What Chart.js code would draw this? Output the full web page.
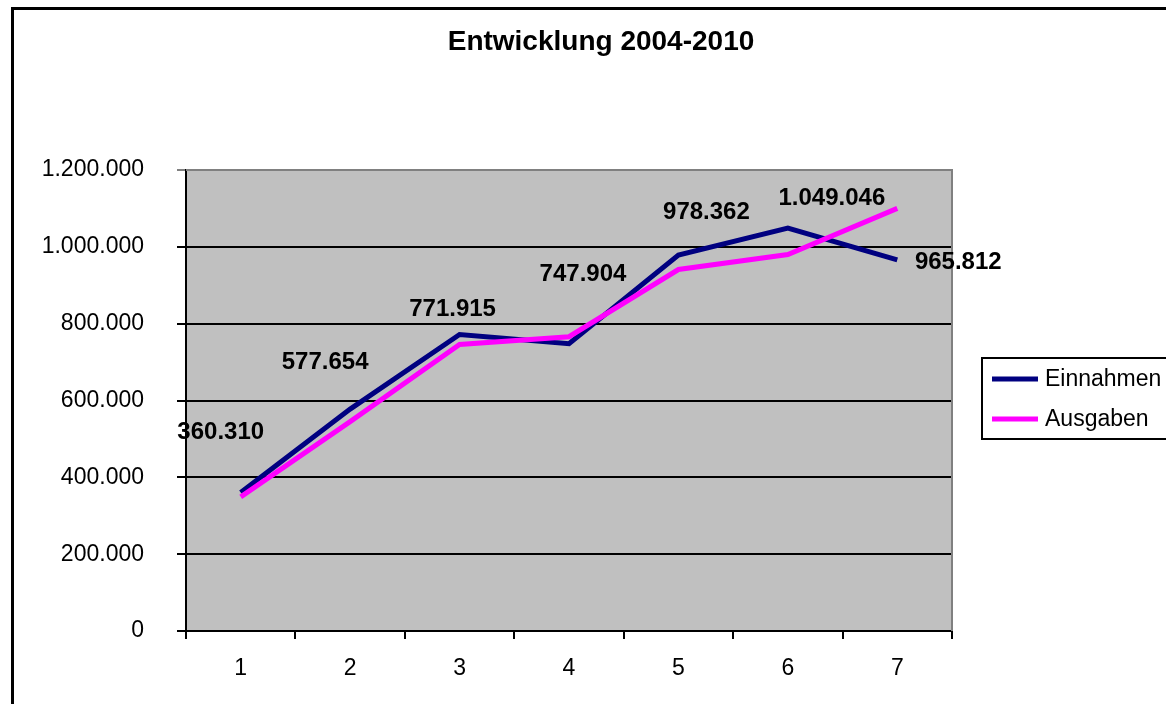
<!DOCTYPE html>
<html>
<head>
<meta charset="utf-8">
<script src="https://cdn.jsdelivr.net/npm/chart.js@4"></script>
<style>
  html, body { margin: 0; padding: 0; background: #fff; }
  #wrap { width: 1166px; height: 704px; position: relative; overflow: hidden; }
</style>
</head>
<body>
<div id="wrap"><canvas id="myChart" width="1166" height="704"></canvas></div>
<script>
// data
const categories = ['1', '2', '3', '4', '5', '6', '7']
const einnahmen = [360310, 577654, 771915, 747904, 978362, 1049046, 965812]
const ausgaben = [349000, 545000, 746000, 766000, 941000, 980000, 1100000]
const yTicks = [0, 200000, 400000, 600000, 800000, 1000000, 1200000]
const chartTitle = 'Entwicklung 2004-2010'

// label offsets from each point (moved by hand in the original)
const labelOffsets = [[-20, -60], [-25, -47], [-7, -25], [14, -69], [28, -43], [44, -30], [61, 2]]

const FONT = "'Liberation Sans', Arial, sans-serif"

function fmt(v) {
    return String(v).replace(/\B(?=(\d{3})+(?!\d))/g, '.')
}

const frame = {
    id: 'frame',
    beforeDraw(chart) {
        const ctx = chart.ctx
        const a = chart.chartArea
        ctx.save()
        ctx.fillStyle = '#fff'
        ctx.fillRect(0, 0, chart.width, chart.height)
        // outer border, runs off the right and bottom edge
        ctx.strokeStyle = '#000'
        ctx.lineWidth = 3
        ctx.strokeRect(12.5, 8.5, 1200, 750)
        // plot area
        ctx.fillStyle = '#C0C0C0'
        ctx.fillRect(a.left, a.top, a.right - a.left, a.bottom - a.top)
        ctx.restore()
    },
    beforeDatasetsDraw(chart) {
        const ctx = chart.ctx
        const a = chart.chartArea
        ctx.save()
        ctx.strokeStyle = '#808080'
        ctx.lineWidth = 2
        ctx.beginPath()
        ctx.moveTo(a.left, a.top)
        ctx.lineTo(a.right, a.top)
        ctx.lineTo(a.right, a.bottom)
        ctx.stroke()
        ctx.restore()
    },
    afterDraw(chart) {
        const ctx = chart.ctx
        ctx.save()
        // title
        ctx.fillStyle = '#000'
        ctx.font = 'bold 28px ' + FONT
        ctx.textAlign = 'center'
        ctx.textBaseline = 'middle'
        ctx.fillText(chartTitle, 601, 42)

        // data labels for Einnahmen
        const meta = chart.getDatasetMeta(0)
        ctx.font = 'bold 24px ' + FONT
        meta.data.forEach((pt, i) => {
            const off = labelOffsets[i]
            ctx.fillText(fmt(einnahmen[i]), pt.x + off[0], pt.y + off[1])
        })

        // legend
        ctx.fillStyle = '#fff'
        ctx.fillRect(982, 358, 300, 81)
        ctx.strokeStyle = '#000'
        ctx.lineWidth = 2
        ctx.strokeRect(982, 358, 300, 81)
        const items = chart.data.datasets
        items.forEach((ds, i) => {
            const y = 379 + i * 40
            ctx.strokeStyle = ds.borderColor
            ctx.lineWidth = 5
            ctx.beginPath()
            ctx.moveTo(992, y)
            ctx.lineTo(1038, y)
            ctx.stroke()
            ctx.fillStyle = '#000'
            ctx.font = '23px ' + FONT
            ctx.textAlign = 'left'
            ctx.fillText(ds.label, 1045, y + 1)
        })
        ctx.restore()
    }
}

const data = {
    labels: categories,
    datasets: [{
        label: 'Einnahmen',
        data: einnahmen,
        borderColor: '#000080',
        backgroundColor: '#000080',
        borderWidth: 5,
        pointRadius: 0,
        tension: 0,
        order: 1
    }, {
        label: 'Ausgaben',
        data: ausgaben,
        borderColor: '#FF00FF',
        backgroundColor: '#FF00FF',
        borderWidth: 5,
        pointRadius: 0,
        tension: 0,
        order: 0
    }]
}

const config = {
    type: 'line',
    data: data,
    plugins: [frame],
    options: {
        responsive: false,
        animation: false,
        layout: { padding: { left: 0, right: 214, top: 170, bottom: 0 } },
        plugins: {
            legend: { display: false },
            title: { display: false },
            tooltip: { enabled: false }
        },
        scales: {
            x: {
                offset: true,
                afterFit: s => { s.height = 73 },
                grid: { offset: true, drawOnChartArea: false, color: '#000', lineWidth: 2, tickLength: 8 },
                border: { color: '#000', width: 2 },
                ticks: { color: '#000', font: { family: FONT, size: 23 }, padding: 16 }
            },
            y: {
                min: 0,
                max: 1200000,
                afterFit: s => { s.width = 186 },
                afterBuildTicks: s => { s.ticks = yTicks.map(v => ({ value: v })) },
                grid: {
                    color: c => c.tick && c.tick.value === 1200000 ? '#808080' : '#000',
                    lineWidth: 2,
                    tickLength: 9
                },
                border: { color: '#000', width: 2 },
                ticks: {
                    color: '#000',
                    font: { family: FONT, size: 23 },
                    padding: 33,
                    callback: v => fmt(v)
                }
            }
        }
    }
}

const myChart = new Chart(document.getElementById('myChart'), config)
</script>
</body>
</html>
